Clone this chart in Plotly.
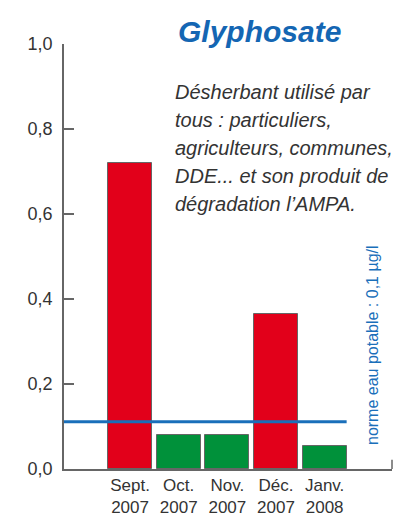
import plotly.graph_objects as go

categories = ["Sept.<br>2007", "Oct.<br>2007", "Nov.<br>2007", "Déc.<br>2007", "Janv.<br>2008"]
values = [0.72, 0.079, 0.079, 0.365, 0.055]
bar_colors = ["#e2001a", "#00913a", "#00913a", "#e2001a", "#00913a"]
norm_value = 0.111
y_tickvals = [0, 0.2, 0.4, 0.6, 0.8, 1.0]
y_ticktext = ["0,0", "0,2", "0,4", "0,6", "0,8", "1,0"]
title_text = "Glyphosate"
desc_lines = ["Désherbant utilisé par", "tous : particuliers,", "agriculteurs, communes,",
              "DDE... et son produit de", "dégradation l’AMPA."]
norm_label = "norme eau potable : 0,1 µg/l"

x_idx = list(range(len(categories)))
bar_w = 0.905
x_left = -1.358
x_right = 5.385

fig = go.Figure()
fig.add_trace(go.Bar(
    x=x_idx, y=values, width=bar_w,
    marker=dict(color=bar_colors, line=dict(color="#666666", width=1)),
    showlegend=False, hoverinfo="skip"))
fig.add_trace(go.Scatter(
    x=[x_left, x_idx[-1] + bar_w / 2], y=[norm_value, norm_value], mode="lines",
    line=dict(color="#1a6fba", width=3), showlegend=False, hoverinfo="skip",
    cliponaxis=False))

fig.update_layout(
    width=414, height=517,
    margin=dict(l=64, r=22, t=44, b=48),
    paper_bgcolor="white", plot_bgcolor="white",
    bargap=0,
    xaxis=dict(range=[x_left, x_right], tickvals=x_idx, ticktext=categories,
               showgrid=False, zeroline=False, showline=True, linecolor="#666666",
               linewidth=1.5, ticks="", fixedrange=True, automargin=False,
               tickfont=dict(family="Liberation Sans Narrow, Liberation Sans, sans-serif",
                             size=17, color="#333333")),
    yaxis=dict(range=[0, 1.0], tickvals=y_tickvals, ticktext=y_ticktext,
               showgrid=False, zeroline=False, showline=True, linecolor="#666666",
               linewidth=1.5, ticks="inside", ticklen=10, tickwidth=1.5,
               tickcolor="#666666", ticklabelstandoff=6, automargin=False, fixedrange=True,
               tickfont=dict(family="Liberation Sans, sans-serif", size=18, color="#333333")),
)

fig.add_shape(type="line", xref="paper", yref="paper", x0=1, x1=1, y0=0, y1=0.022,
              line=dict(color="#666666", width=1.5))

fig.add_annotation(text="<b><i>" + title_text + "</i></b>", xref="paper", yref="paper",
                   x=(176 - 64) / 328, y=(469 - 31) / 425, xanchor="left", yanchor="middle",
                   showarrow=False,
                   font=dict(family="Liberation Sans, sans-serif", size=30, color="#1466b3"))

for i, line in enumerate(desc_lines):
    fig.add_annotation(text="<i>" + line + "</i>", xref="paper", yref="paper",
                       x=(173 - 64) / 328, y=(469 - (92 + 28 * i)) / 425,
                       xanchor="left", yanchor="middle", showarrow=False,
                       font=dict(family="Liberation Sans, sans-serif", size=20, color="#333333"))

fig.add_annotation(text=norm_label, xref="paper", yref="paper",
                   x=(372 - 64) / 328, y=(469 - 345) / 425, textangle=-90,
                   xanchor="center", yanchor="middle", showarrow=False,
                   font=dict(family="Liberation Sans Narrow, Liberation Sans, sans-serif",
                             size=16, color="#1a6fba"))

fig.write_html("out.html", config={"displayModeBar": False},
               post_script="document.body.style.margin='0';document.body.style.overflow='hidden';")
